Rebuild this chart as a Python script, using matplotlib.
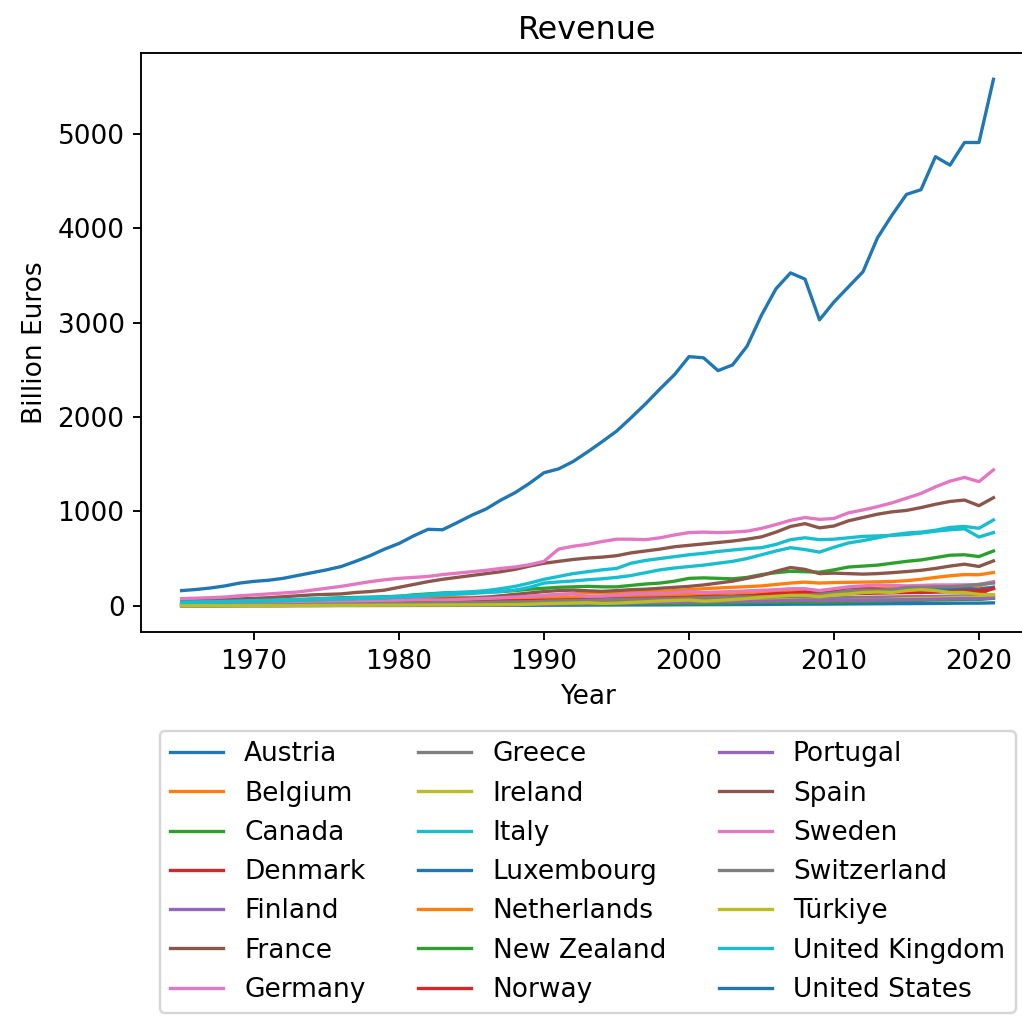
import numpy as np
import matplotlib
matplotlib.use("Agg")
import matplotlib.pyplot as plt

# Government revenue, billion euros, 1965-2021
years = list(range(1965, 2022))

countries = [
    "Austria", "Belgium", "Canada", "Denmark", "Finland", "France", "Germany",
    "Greece", "Ireland", "Italy", "Luxembourg", "Netherlands", "New Zealand",
    "Norway", "Portugal", "Spain", "Sweden", "Switzerland", "Türkiye",
    "United Kingdom", "United States",
]

austria = [7, 8, 9, 10, 11, 12, 14, 16, 19, 22,
           25, 27, 31, 34, 37, 40, 43, 47, 50, 53,
           56, 58, 60, 62, 65, 70, 75, 82, 88, 92,
           95, 95, 96, 99, 102, 104, 110, 111, 113, 116,
           120, 125, 130, 137, 135, 137, 143, 149, 153, 158,
           163, 165, 170, 177, 184, 178, 196]
belgium = [8, 9, 10, 11, 12, 14, 16, 18, 21, 25,
           30, 34, 38, 42, 46, 50, 52, 56, 58, 62,
           65, 68, 70, 72, 75, 80, 84, 90, 95, 100,
           105, 106, 108, 111, 115, 120, 125, 128, 132, 138,
           145, 150, 158, 165, 160, 167, 175, 182, 186, 190,
           193, 197, 205, 212, 218, 210, 250]
canada = [30, 33, 36, 40, 44, 48, 52, 57, 62, 70,
          78, 85, 88, 90, 95, 100, 115, 125, 135, 140,
          140, 145, 150, 160, 175, 185, 195, 200, 205, 200,
          200, 215, 230, 240, 260, 290, 295, 290, 285, 300,
          330, 350, 365, 360, 355, 380, 410, 420, 430, 450,
          470, 485, 510, 535, 540, 521, 580]
denmark = [4, 5, 5, 6, 7, 8, 9, 10, 12, 14,
           16, 18, 20, 23, 26, 28, 30, 33, 36, 40,
           44, 47, 50, 52, 54, 58, 60, 63, 66, 70,
           73, 76, 79, 82, 85, 88, 92, 95, 97, 102,
           108, 114, 118, 122, 118, 123, 126, 130, 133, 136,
           138, 140, 147, 150, 160, 158, 180]
finland = [3, 3, 3, 3, 4, 4, 5, 6, 7, 8,
           10, 11, 12, 13, 15, 17, 19, 22, 23, 25,
           27, 29, 31, 35, 39, 44, 42, 35, 33, 38,
           44, 46, 50, 53, 55, 60, 63, 64, 65, 67,
           70, 73, 78, 82, 78, 80, 86, 89, 91, 93,
           95, 97, 99, 101, 104, 102, 112]
france = [50, 55, 60, 65, 72, 78, 85, 95, 105, 115,
          120, 125, 140, 150, 165, 195, 225, 255, 280, 300,
          320, 340, 360, 385, 420, 450, 470, 490, 505, 515,
          530, 560, 580, 600, 625, 640, 655, 670, 685, 705,
          730, 780, 840, 870, 825, 845, 900, 935, 970, 995,
          1010, 1040, 1075, 1105, 1120, 1060, 1145]
germany = [75, 80, 85, 92, 105, 115, 125, 135, 145, 165,
           185, 205, 230, 255, 275, 290, 300, 310, 330, 345,
           360, 375, 395, 410, 435, 470, 600, 630, 650, 680,
           705, 705, 700, 720, 750, 775, 780, 775, 780, 790,
           820, 860, 905, 935, 915, 925, 985, 1015, 1050, 1090,
           1140, 1190, 1260, 1320, 1360, 1315, 1440]
greece = [1, 1, 1, 2, 2, 2, 2, 3, 3, 3,
          4, 5, 5, 6, 7, 8, 9, 10, 11, 12,
          13, 13, 14, 15, 16, 18, 20, 23, 25, 27,
          30, 33, 36, 38, 41, 45, 47, 49, 52, 56,
          61, 66, 72, 76, 72, 77, 80, 85, 80, 82,
          85, 86, 88, 90, 91, 87, 90]
ireland = [1, 1, 1, 1, 2, 2, 2, 2, 3, 3,
           3, 4, 4, 5, 6, 7, 8, 9, 10, 10,
           11, 12, 12, 13, 13, 14, 15, 16, 17, 18,
           20, 22, 25, 28, 31, 36, 38, 41, 45, 49,
           55, 60, 63, 58, 55, 54, 57, 60, 63, 68,
           76, 78, 80, 85, 90, 86, 103]
italy = [38, 40, 43, 46, 50, 54, 58, 62, 66, 72,
         76, 80, 84, 88, 92, 100, 110, 120, 130, 140,
         148, 160, 180, 205, 240, 280, 310, 340, 360, 380,
         395, 450, 480, 500, 520, 540, 555, 575, 590, 605,
         615, 650, 700, 720, 700, 705, 720, 735, 740, 745,
         755, 770, 790, 805, 815, 728, 775]
luxembourg = [0.4, 0.4, 0.5, 0.5, 0.6, 0.7, 0.8, 0.9, 1.0, 1.2,
              1.4, 1.5, 1.7, 1.9, 2.1, 2.3, 2.5, 2.7, 3.0, 3.2,
              3.5, 3.8, 4.0, 4.3, 4.6, 5.0, 5.4, 5.8, 6.4, 7.0,
              7.5, 7.8, 8.2, 8.6, 9.3, 10.2, 11.0, 11.5, 12.0, 12.5,
              13.5, 14.5, 15.8, 16.5, 16.3, 17.5, 18.6, 19.5, 20.4, 21.5,
              22.2, 23.0, 24.2, 25.6, 26.8, 27.0, 30.5]
netherlands = [12, 14, 16, 18, 21, 25, 29, 34, 40, 46,
               52, 58, 64, 70, 75, 80, 82, 84, 86, 87,
               88, 90, 92, 95, 100, 108, 118, 128, 135, 138,
               142, 145, 148, 153, 160, 170, 180, 188, 195, 202,
               210, 225, 240, 250, 240, 245, 248, 250, 253, 257,
               265, 280, 300, 317, 330, 328, 352]
new_zealand = [2, 2, 2, 2, 2, 3, 3, 3, 4, 4,
               4, 5, 5, 6, 6, 7, 8, 9, 9, 10,
               11, 12, 13, 15, 16, 17, 17, 16, 16, 18,
               20, 22, 22, 21, 21, 22, 23, 25, 28, 31,
               34, 34, 37, 35, 34, 38, 41, 45, 48, 53,
               54, 57, 60, 62, 67, 66, 78]
norway = [3, 3, 4, 4, 5, 5, 6, 7, 8, 9,
          11, 13, 14, 16, 18, 22, 25, 28, 30, 34,
          38, 38, 40, 42, 43, 45, 47, 49, 49, 51,
          55, 60, 66, 64, 68, 86, 96, 100, 96, 101,
          115, 128, 133, 145, 130, 150, 165, 180, 175, 165,
          150, 140, 145, 150, 145, 125, 185]
portugal = [1, 1, 1, 1, 2, 2, 2, 2, 3, 3,
            3, 4, 4, 4, 5, 5, 6, 6, 7, 7,
            8, 9, 10, 12, 14, 16, 19, 23, 24, 25,
            27, 29, 31, 33, 36, 38, 40, 43, 44, 46,
            48, 51, 55, 56, 53, 56, 59, 57, 61, 62,
            64, 66, 69, 73, 76, 74, 82]
spain = [8, 9, 10, 11, 12, 14, 16, 18, 21, 25,
         30, 35, 40, 45, 52, 58, 62, 66, 70, 75,
         80, 90, 105, 120, 135, 150, 160, 165, 158, 152,
         160, 170, 175, 185, 195, 205, 220, 240, 260, 290,
         320, 365, 405, 385, 340, 345, 340, 335, 340, 350,
         362, 375, 395, 420, 440, 416, 475]
sweden = [10, 11, 12, 13, 14, 16, 18, 20, 22, 26,
          32, 38, 42, 46, 50, 58, 62, 62, 60, 66,
          72, 78, 85, 92, 100, 110, 120, 125, 100, 102,
          110, 125, 128, 130, 136, 150, 140, 145, 150, 157,
          163, 170, 180, 180, 160, 180, 200, 210, 220, 215,
          210, 215, 220, 220, 220, 225, 255]
switzerland = [4, 5, 5, 6, 6, 7, 8, 9, 11, 13,
               15, 17, 18, 20, 22, 24, 25, 27, 29, 30,
               33, 36, 39, 40, 42, 48, 52, 55, 58, 62,
               68, 69, 70, 72, 75, 80, 85, 90, 92, 93,
               95, 97, 100, 110, 120, 135, 160, 165, 165, 170,
               195, 195, 200, 200, 210, 225, 240]
turkiye = [1, 1, 1, 1, 1, 2, 2, 2, 2, 3,
           3, 4, 4, 5, 6, 6, 7, 8, 8, 9,
           9, 10, 11, 12, 16, 22, 25, 28, 32, 25,
           28, 35, 42, 50, 55, 60, 48, 55, 65, 75,
           90, 100, 110, 110, 95, 115, 125, 140, 145, 140,
           160, 170, 160, 140, 140, 120, 115]
united_kingdom = [34, 36, 38, 40, 43, 46, 50, 54, 58, 62,
                  66, 70, 74, 78, 84, 90, 98, 106, 114, 122,
                  130, 140, 150, 165, 195, 240, 252, 262, 275, 285,
                  300, 320, 350, 380, 400, 415, 430, 450, 470, 500,
                  540, 580, 615, 595, 568, 620, 665, 690, 720, 750,
                  770, 780, 800, 830, 840, 821, 909]
united_states = [160, 172, 188, 210, 240, 258, 270, 290, 320, 350,
                 380, 415, 470, 530, 600, 660, 740, 810, 805, 880,
                 958, 1025, 1118, 1198, 1298, 1410, 1450, 1528, 1630, 1738,
                 1850, 1992, 2140, 2298, 2450, 2640, 2628, 2492, 2552, 2750,
                 3080, 3360, 3528, 3462, 3030, 3220, 3380, 3540, 3900, 4140,
                 4360, 4410, 4760, 4670, 4910, 4910, 5580]

series = [austria, belgium, canada, denmark, finland, france, germany,
          greece, ireland, italy, luxembourg, netherlands, new_zealand,
          norway, portugal, spain, sweden, switzerland, turkiye,
          united_kingdom, united_states]

plt.rcParams["font.size"] = 11.2

fig = plt.figure(figsize=(1022 / 170, 1019 / 170), dpi=170)
# axes run past the right edge, like the cropped original
ax = fig.add_axes([0.138, 0.3798, 0.8738, 0.5682])

for name, vals in zip(countries, series):
    ax.plot(years, np.array(vals), label=name, lw=1.4)

ax.set_title("Revenue")
ax.set_xlabel("Year")
ax.set_ylabel("Billion Euros")
ax.legend(loc="upper center", bbox_to_anchor=(0.5, -0.148), ncol=3)

fig.savefig("out.png", dpi=170)
